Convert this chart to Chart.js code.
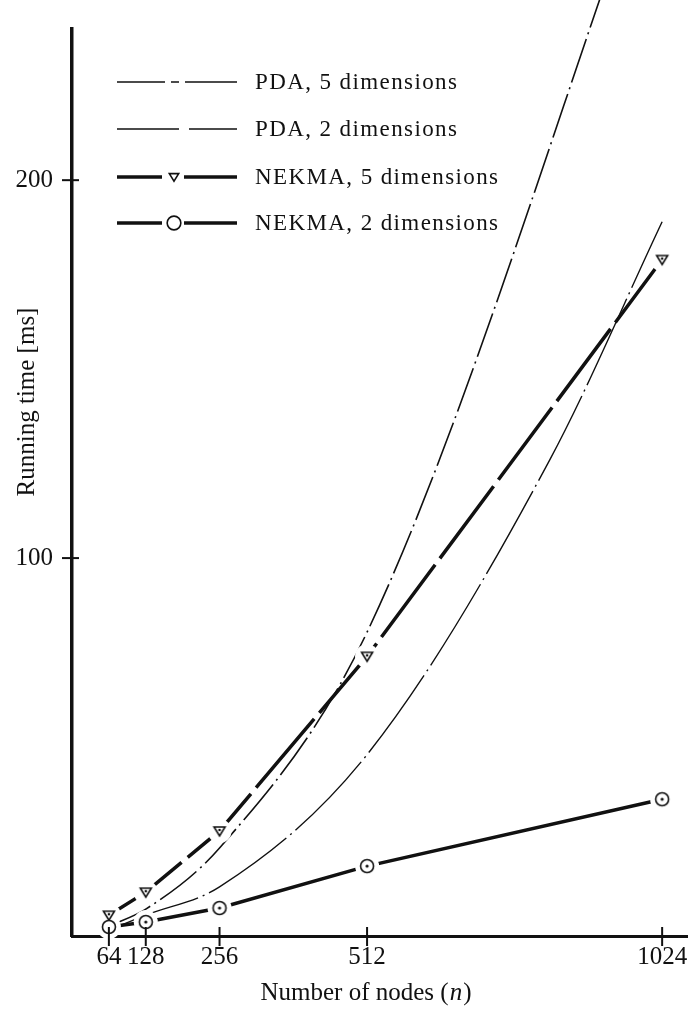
<!DOCTYPE html>
<html>
<head>
<meta charset="utf-8">
<script src="https://cdn.jsdelivr.net/npm/chart.js@4.4.1/dist/chart.umd.min.js"></script>
<style>
  html, body { margin: 0; padding: 0; background: #fff; }
  #wrap { width: 697px; height: 1010px; }
</style>
</head>
<body>
<div id="wrap"><canvas id="runChart" width="697" height="1010"></canvas></div>
<script>
// values (running time in ms)
const nodes = [64, 128, 256, 512, 1024];
const pda5 = [2.6, 7.1, 23.3, 80.4, 295];
// the PDA 2-dim curve is also read at n = 829 to keep its shape
const pda2Nodes = [64, 128, 256, 512, 829, 1024];
const pda2 = [1.5, 5.5, 13.0, 48, 126, 189];
const nekma5 = [5.5, 11.6, 27.8, 74, 179];
const nekma2 = [2.4, 3.7, 7.4, 18.5, 36.2];

const xTicks = [64, 128, 256, 512, 1024];
const yTicks = [100, 200];
const seriesLabels = ['PDA, 5 dimensions', 'PDA, 2 dimensions', 'NEKMA, 5 dimensions', 'NEKMA, 2 dimensions'];

const INK = '#111';
const SERIF = "'Liberation Serif', 'DejaVu Serif', serif";

// small canvases used as point styles
function makeMarker(kind, withDot, scale = 1) {
    const c = document.createElement('canvas');
    c.width = 24; c.height = 24;
    const g = c.getContext('2d');
    g.strokeStyle = INK;
    g.fillStyle = '#fff';
    g.lineWidth = 1.6;
    if (kind === 'circle') {
        g.beginPath();
        g.arc(12, 12, 6.5 * scale, 0, Math.PI * 2);
        g.fill(); g.stroke();
        if (withDot) {
            g.fillStyle = INK;
            g.beginPath(); g.arc(12, 12, 1.6, 0, Math.PI * 2); g.fill();
        }
    } else {
        g.beginPath();
        g.moveTo(12 - 5.5 * scale, 12 - 4 * scale);
        g.lineTo(12 + 5.5 * scale, 12 - 4 * scale);
        g.lineTo(12, 12 + 5 * scale);
        g.closePath();
        g.fill(); g.stroke();
        if (withDot) {
            g.fillStyle = INK;
            g.beginPath(); g.arc(12, 11, 1.3, 0, Math.PI * 2); g.fill();
        }
    }
    return c;
}

const circleDot = makeMarker('circle', true);
const circleOpen = makeMarker('circle', false);
const triDot = makeMarker('tri', true);
const triLegend = makeMarker('tri', false, 0.85);
const circleLegend = makeMarker('circle', false, 1.05);

const toXY = (xs, ys) => ys.map((v, i) => ({ x: xs[i], y: v }));

// white halo behind the NEKMA markers so the lines break around them
const haloPlugin = {
    id: 'halo',
    afterDatasetsDraw(chart) {
        const ctx = chart.ctx;
        const metas = [2, 3].map(i => chart.getDatasetMeta(i));
        ctx.save();
        ctx.fillStyle = '#fff';
        metas.forEach(meta => meta.data.forEach(pt => {
            ctx.beginPath();
            ctx.arc(pt.x, pt.y, 12, 0, Math.PI * 2);
            ctx.fill();
        }));
        ctx.restore();
        metas.forEach(meta => meta.data.forEach(pt => pt.draw(ctx, chart.chartArea)));
    },
};

// tick marks crossing the axes, plus axis titles and the legend
const decorPlugin = {
    id: 'decor',
    afterDraw(chart) {
        const ctx = chart.ctx;
        const { x, y } = chart.scales;
        const area = chart.chartArea;
        ctx.save();
        ctx.strokeStyle = INK;
        ctx.lineWidth = 2;
        xTicks.forEach(v => {
            const px = x.getPixelForValue(v);
            ctx.beginPath(); ctx.moveTo(px, area.bottom - 9); ctx.lineTo(px, area.bottom + 10); ctx.stroke();
        });
        yTicks.forEach(v => {
            const py = y.getPixelForValue(v);
            ctx.beginPath(); ctx.moveTo(area.left - 10, py); ctx.lineTo(area.left + 7, py); ctx.stroke();
        });

        // axis titles
        ctx.fillStyle = INK;
        ctx.textBaseline = 'middle';
        const pre = 'Number of nodes (', post = ')';
        ctx.font = `25px ${SERIF}`;
        const wPre = ctx.measureText(pre).width, wPost = ctx.measureText(post).width;
        ctx.font = `italic 25px ${SERIF}`;
        const wN = ctx.measureText('n').width;
        const tx = 365 - (wPre + wN + wPost) / 2;
        ctx.textAlign = 'left';
        ctx.font = `25px ${SERIF}`;
        ctx.fillText(pre, tx, 993);
        ctx.font = `italic 25px ${SERIF}`;
        ctx.fillText('n', tx + wPre + 1, 993);
        ctx.font = `25px ${SERIF}`;
        ctx.fillText(post, tx + wPre + wN + 2, 993);

        ctx.save();
        ctx.translate(27, 402);
        ctx.rotate(-Math.PI / 2);
        ctx.textAlign = 'center';
        ctx.fillText('Running time [ms]', 0, 0);
        ctx.restore();

        // legend
        const rows = [82, 129, 177, 223];
        const sampleDash = [[48, 6, 8, 6, 80], [62, 10, 80], [], []];
        chart.data.datasets.forEach((ds, i) => {
            const ry = rows[i];
            ctx.save();
            ctx.strokeStyle = INK;
            ctx.lineWidth = ds.borderWidth;
            ctx.setLineDash(sampleDash[i]);
            ctx.beginPath(); ctx.moveTo(117, ry); ctx.lineTo(237, ry); ctx.stroke();
            ctx.restore();
            if (i >= 2) {
                ctx.fillStyle = '#fff';
                ctx.fillRect(162, ry - 10, 22, 20);
                const img = i === 2 ? triLegend : circleLegend;
                ctx.drawImage(img, 174 - 12, ry - 12);
            }
            ctx.fillStyle = INK;
            ctx.font = `23px ${SERIF}`;
            ctx.letterSpacing = '1.4px';
            ctx.textAlign = 'left';
            ctx.fillText(seriesLabels[i], 255, ry + 1);
            ctx.letterSpacing = '0px';
        });
        ctx.restore();
    },
};

new Chart(document.getElementById('runChart'), {
    type: 'line',
    data: {
        datasets: [
            {
                label: seriesLabels[0],
                data: toXY(nodes, pda5),
                borderColor: INK, borderWidth: 1.6,
                borderDash: [46, 5, 2, 5],
                cubicInterpolationMode: 'monotone',
                pointRadius: 0, clip: false,
            },
            {
                label: seriesLabels[1],
                data: toXY(pda2Nodes, pda2),
                borderColor: INK, borderWidth: 1.4,
                borderDash: [95, 5, 2, 5],
                cubicInterpolationMode: 'monotone',
                pointRadius: 0,
            },
            {
                label: seriesLabels[2],
                data: toXY(nodes, nekma5),
                borderColor: INK, borderWidth: 3.5,
                borderDash: [90, 8],
                tension: 0,
                pointStyle: triDot, pointRadius: 6,
            },
            {
                label: seriesLabels[3],
                data: toXY(nodes, nekma2),
                borderColor: INK, borderWidth: 3.5,
                tension: 0,
                pointStyle: nodes.map((n, i) => i === 0 ? circleOpen : circleDot),
                pointRadius: 6,
            },
        ],
    },
    options: {
        responsive: false,
        devicePixelRatio: 1,
        animation: false,
        layout: { padding: { top: 29, left: 0, right: 0, bottom: 0 } },
        plugins: { legend: { display: false }, tooltip: { enabled: false } },
        scales: {
            x: {
                type: 'linear',
                min: 0, max: 1068,
                grid: { display: false, drawTicks: false },
                border: { display: true, color: INK, width: 3 },
                ticks: {
                    color: INK, padding: 6, maxRotation: 0,
                    font: { family: SERIF, size: 25 },
                    callback: v => String(v),
                },
                afterBuildTicks: s => { s.ticks = xTicks.map(v => ({ value: v })); },
                afterFit: s => { s.height = 74; s.paddingLeft = 0; s.paddingRight = 0; },
            },
            y: {
                type: 'linear',
                min: 0, max: 240,
                grid: { display: false, drawTicks: false },
                border: { display: true, color: INK, width: 3.5 },
                ticks: { color: INK, padding: 19, font: { family: SERIF, size: 25 } },
                afterBuildTicks: s => { s.ticks = yTicks.map(v => ({ value: v })); },
                afterFit: s => { s.width = 72; s.paddingTop = 0; s.paddingBottom = 0; },
            },
        },
    },
    plugins: [haloPlugin, decorPlugin],
});
</script>
</body>
</html>
